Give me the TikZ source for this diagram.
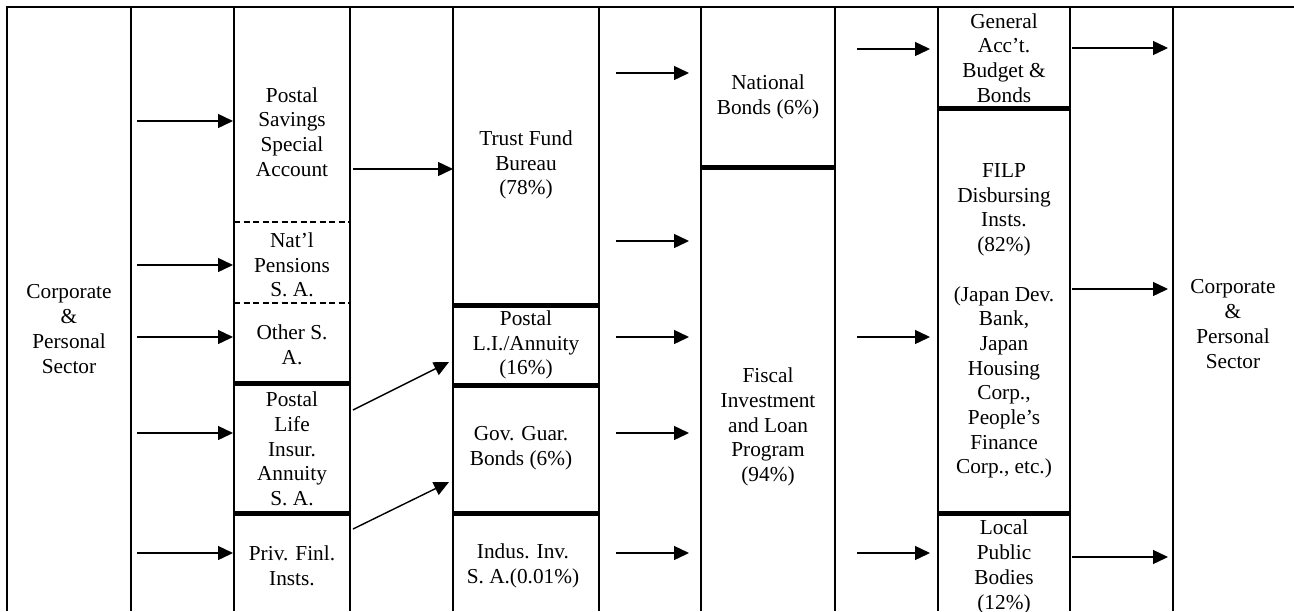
\documentclass[tikz,border=0pt]{standalone}
\usepackage{fontspec}
\setmainfont{Liberation Serif}
\usetikzlibrary{arrows.meta}
\tikzset{
  x=1pt, y=-1pt,
  frame/.style={line width=1.8pt},
  sep/.style={line width=5pt},
  dsep/.style={line width=1.3pt, dash pattern=on 6pt off 3.5pt},
  arr/.style={line width=1.4pt, -{Triangle[length=15pt,width=14pt]}},
  lbl/.style={align=center, inner sep=0pt, font=\fontsize{21.3}{24.7}\selectfont},
}
\begin{document}
\begin{tikzpicture}
\useasboundingbox (0,0) rectangle (1294,611);
\clip (0,0) rectangle (1294,611);
\fill[white] (0,0) rectangle (1294,611);
% frame
\draw[frame] (7,611) -- (7,7) -- (1294,7);
\foreach \xx in {131,234,350,453,599,701,835,938,1070,1173}
  \draw[frame] (\xx,7) -- (\xx,611);
% separators
\draw[dsep] (234,222) -- (350,222);
\draw[dsep] (234,303) -- (350,303);
\draw[sep] (234,383) -- (350,383);
\draw[sep] (234,513) -- (350,513);
\draw[sep] (453,305) -- (599,305);
\draw[sep] (453,385) -- (599,385);
\draw[sep] (453,513) -- (599,513);
\draw[sep] (701,167) -- (835,167);
\draw[sep] (938,108) -- (1070,108);
\draw[sep] (938,513) -- (1070,513);
% labels
\node[lbl] (cpL) at (69,329) {Corporate\\\&\\Personal\\Sector};
\node[lbl] (pssa) at (292,132) {Postal\\Savings\\Special\\Account};
\node[lbl] (nps) at (292,265) {Nat’l\\Pensions\\S. A.};
\node[lbl] (osa) at (292,345) {Other S.\\A.};
\node[lbl] (plia) at (292,449) {Postal\\Life\\Insur.\\Annuity\\S. A.};
\node[lbl] (pfi) at (292,566) {Priv. Finl.\\Insts.};
\node[lbl] (tfb) at (526,165) {Trust Fund\\Bureau\\(78\%)};
\node[lbl] (pla) at (526,345) {Postal\\L.I./Annuity\\(16\%)};
\node[lbl] (ggb) at (521,448) {Gov. Guar.\\Bonds (6\%)};
\node[lbl] (iisa) at (523,566) {Indus. Inv.\\S. A.(0.01\%)};
\node[lbl] (nb) at (768,97) {National\\Bonds (6\%)};
\node[lbl] (filp) at (768,427) {Fiscal\\Investment\\and Loan\\Program\\(94\%)};
\node[lbl] (gab) at (1004,58) {General\\Acc’t.\\Budget \&\\Bonds};
\node[lbl] (fdi) at (1004,321) {FILP\\Disbursing\\Insts.\\(82\%)\\[24.7pt](Japan Dev.\\Bank,\\Japan\\Housing\\Corp.,\\People’s\\Finance\\Corp., etc.)};
\node[lbl,anchor=north] (lpb) at (1004,520) {Local\\Public\\Bodies\\(12\%)};
\node[lbl] (cpR) at (1233,324) {Corporate\\\&\\Personal\\Sector};
% arrow end coordinates
\foreach \yy/\nm in {121/a,265/b,337/c,433/d,553/e}{
  \coordinate (s2\nm) at (137,\yy); \coordinate (t2\nm) at (233,\yy);}
\foreach \yy/\nm in {73/a,241/b,337/c,433/d,553/e}{
  \coordinate (s6\nm) at (616,\yy); \coordinate (t6\nm) at (689,\yy);}
\foreach \yy/\nm in {49/a,337/b,553/c}{
  \coordinate (s8\nm) at (857,\yy); \coordinate (t8\nm) at (930,\yy);}
\foreach \yy/\nm in {48/a,289/b,557/c}{
  \coordinate (s10\nm) at (1072,\yy); \coordinate (t10\nm) at (1168,\yy);}
\coordinate (s4a) at (353,169); \coordinate (t4a) at (453,169);
\coordinate (s4b) at (353,410); \coordinate (t4b) at (449,362);
\coordinate (s4c) at (353,529); \coordinate (t4c) at (449,482);
% arrows
\foreach \nm in {a,b,c,d,e}{\draw[arr] (s2\nm) -- (t2\nm); \draw[arr] (s6\nm) -- (t6\nm);}
\foreach \nm in {a,b,c}{\draw[arr] (s8\nm) -- (t8\nm); \draw[arr] (s10\nm) -- (t10\nm); \draw[arr] (s4\nm) -- (t4\nm);}
\end{tikzpicture}
\end{document}
